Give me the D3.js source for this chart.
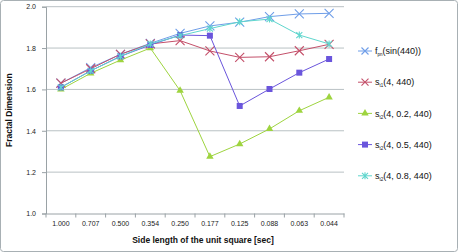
<!DOCTYPE html>
<html>
<head>
<meta charset="utf-8">
<script src="https://cdn.jsdelivr.net/npm/d3@7"></script>
<style>
  body { margin: 0; background: #fff; }
  svg { font-family: "Liberation Sans", Arial, sans-serif; }
</style>
</head>
<body>
<svg id="chart" width="458" height="252"></svg>
<script>
// categories on the x axis
const sideLengths = ["1.000", "0.707", "0.500", "0.354", "0.250", "0.177", "0.125", "0.088", "0.063", "0.044"]
const yTicks = [1.0, 1.2, 1.4, 1.6, 1.8, 2.0]

const fpn    = [1.63, 1.705, 1.77, 1.823, 1.871, 1.907, 1.925, 1.952, 1.965, 1.968]
const st1    = [1.63, 1.70, 1.77, 1.82, 1.836, 1.786, 1.755, 1.758, 1.787, 1.818]
const st2_02 = [1.60, 1.678, 1.742, 1.80, 1.594, 1.275, 1.336, 1.409, 1.497, 1.562]
const st2_05 = [1.61, 1.69, 1.76, 1.815, 1.863, 1.86, 1.52, 1.602, 1.681, 1.747]
const st2_08 = [1.61, 1.69, 1.76, 1.82, 1.86, 1.894, 1.927, 1.94, 1.863, 1.82]

const series = [
  {name: "f", sub: "pn", rest: "(sin(440))", values: fpn, color: "#6f9ee8", marker: "x"},
  {name: "s", sub: "t1", rest: "(4, 440)", values: st1, color: "#c4506a", marker: "x"},
  {name: "s", sub: "t2", rest: "(4, 0.2, 440)", values: st2_02, color: "#9ed43f", marker: "tri"},
  {name: "s", sub: "t2", rest: "(4, 0.5, 440)", values: st2_05, color: "#6a55dc", marker: "sq"},
  {name: "s", sub: "t2", rest: "(4, 0.8, 440)", values: st2_08, color: "#5fd6cd", marker: "star"},
]

const svg = d3.select("#chart")
const W = 458, H = 252

// outer frame
svg.append("rect")
  .attr("x", 0.5).attr("y", 0.5)
  .attr("width", W - 1).attr("height", H - 1)
  .attr("rx", 3)
  .attr("fill", "#fff").attr("stroke", "#a8b0b4")

const m = {left: 46, right: 344, top: 6.7, bottom: 213.5}

const x = d3.scaleBand().domain(sideLengths).range([m.left, m.right])
const y = d3.scaleLinear().domain([1.0, 2.0]).range([m.bottom, m.top])

// gridlines
svg.append("g").selectAll("line")
  .data(yTicks.slice(1))
  .join("line")
  .attr("x1", m.left).attr("x2", m.right)
  .attr("y1", d => y(d)).attr("y2", d => y(d))
  .attr("stroke", "#b9c1c4").attr("stroke-width", 1)

// y axis
const yAxis = svg.append("g")
  .attr("transform", `translate(${m.left},0)`)
  .call(d3.axisLeft(y).tickValues(yTicks).tickFormat(d3.format(".1f")).tickSize(4))
yAxis.select(".domain").attr("stroke", "#9aa2a6")
yAxis.selectAll(".tick line").attr("stroke", "#9aa2a6")
yAxis.selectAll("text").attr("font-size", 7).attr("fill", "#222").attr("dx", -3)

// x axis
const xAxis = svg.append("g")
  .attr("transform", `translate(0,${m.bottom})`)
  .call(d3.axisBottom(x).tickSize(0).tickPadding(8))
xAxis.select(".domain").attr("stroke", "#9aa2a6")
xAxis.selectAll("text").attr("font-size", 7).attr("fill", "#222")
// tick marks at band boundaries
svg.append("g").selectAll("line")
  .data(d3.range(sideLengths.length + 1))
  .join("line")
  .attr("x1", i => m.left + i * x.step()).attr("x2", i => m.left + i * x.step())
  .attr("y1", m.bottom).attr("y2", m.bottom + 4)
  .attr("stroke", "#9aa2a6")

// axis titles
svg.append("text")
  .attr("x", 203).attr("y", 243)
  .attr("text-anchor", "middle")
  .attr("font-size", 8.5).attr("font-weight", "bold").attr("fill", "#111")
  .text("Side length of the unit square [sec]")

svg.append("text")
  .attr("transform", `translate(12,${(m.top + m.bottom) / 2}) rotate(-90)`)
  .attr("text-anchor", "middle")
  .attr("font-size", 8.5).attr("font-weight", "bold").attr("fill", "#111")
  .text("Fractal Dimension")

function drawMarker(g, type, color, r) {
  if (type === "x") {
    g.append("path").attr("d", `M${-r},${-r}L${r},${r}M${-r},${r}L${r},${-r}`)
      .attr("stroke", color).attr("stroke-width", 1.1).attr("fill", "none")
  } else if (type === "tri") {
    g.append("path").attr("d", d3.symbol(d3.symbolTriangle, 24)())
      .attr("fill", color)
  } else if (type === "sq") {
    g.append("rect").attr("x", -3).attr("y", -3).attr("width", 6).attr("height", 6)
      .attr("fill", color)
  } else {
    g.append("path").attr("d", "M-3,-3L3,3M-3,3L3,-3M0,-3.5L0,3.5")
      .attr("stroke", color).attr("stroke-width", 1.1).attr("fill", "none")
  }
}

const line = d3.line()
  .x((d, i) => x(sideLengths[i]) + x.bandwidth() / 2)
  .y(d => y(d))

series.forEach(s => {
  svg.append("path")
    .datum(s.values)
    .attr("d", line)
    .attr("fill", "none")
    .attr("stroke", s.color).attr("stroke-width", 1)
  s.values.forEach((v, i) => {
    const g = svg.append("g")
      .attr("transform", `translate(${x(sideLengths[i]) + x.bandwidth() / 2},${y(v)})`)
    drawMarker(g, s.marker, s.color, 4.5)
  })
})

// legend
const legend = svg.append("g")
series.forEach((s, i) => {
  const ly = 51 + i * 31.2
  legend.append("line")
    .attr("x1", 358).attr("x2", 372).attr("y1", ly).attr("y2", ly)
    .attr("stroke", s.color).attr("stroke-width", 1)
  drawMarker(legend.append("g").attr("transform", `translate(365,${ly})`), s.marker, s.color, 3.5)
  const t = legend.append("text")
    .attr("x", 375).attr("y", ly + 3.2)
    .attr("font-size", 9).attr("fill", "#111")
  t.append("tspan").text(s.name)
  t.append("tspan").attr("font-size", 4.5).attr("dy", 2).text(s.sub)
  t.append("tspan").attr("dy", -2).text(s.rest)
})
</script>
</body>
</html>
